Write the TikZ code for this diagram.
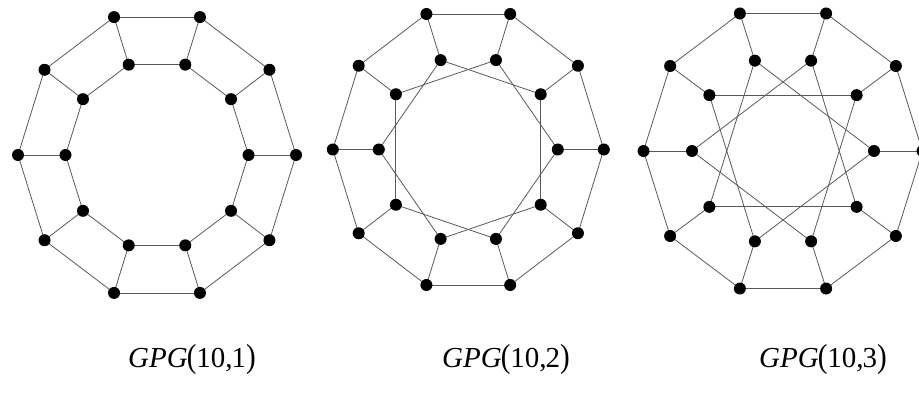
\documentclass[tikz,border=0pt]{standalone}
\usepackage{fontspec}
\setmainfont{Liberation Serif}
\usepackage{graphicx}
\pgfdeclarelayer{bg}
\pgfsetlayers{bg,main}
\tikzset{
 vtx/.style={circle,fill=black,inner sep=0pt,minimum size=12pt},
 gedge/.style={draw=black!65,line width=0.8pt},
 lbl/.style={font=\fontsize{29}{32}\selectfont, anchor=base, inner sep=0pt}
}
\newcommand{\bigpar}[1]{\scalebox{1}[1.15]{#1}}
\newcommand{\gpglabel}[1]{\textit{GPG}\kern-1pt\bigpar{(}10,\kern-1pt#1\bigpar{)}}
\begin{document}
\begin{tikzpicture}[x=1pt,y=-1pt]
\useasboundingbox (0,0) rectangle (919,393);
\foreach \g/\cx/\cy/\ox/\oy/\ix/\iy/\k in {1/157/155/139/145/91.5/95/1, 2/468.3/149.5/135.5/142.5/89.5/94/2, 3/783/151/139.5/144.6/91/95/3}{
  \foreach \i in {0,...,9}{
    \node[vtx] (g\g o\i) at ({\cx+\ox*cos(36*\i)},{\cy-\oy*sin(36*\i)}) {};
    \node[vtx] (g\g i\i) at ({\cx+\ix*cos(36*\i)},{\cy-\iy*sin(36*\i)}) {};
  }
  \begin{pgfonlayer}{bg}
  \foreach \i in {0,...,9}{
    \pgfmathtruncatemacro\nx{mod(\i+1,10)}
    \pgfmathtruncatemacro\nk{mod(\i+\k,10)}
    \draw[gedge] (g\g o\i.center) -- (g\g o\nx.center);
    \draw[gedge] (g\g o\i.center) -- (g\g i\i.center);
    \draw[gedge] (g\g i\i.center) -- (g\g i\nk.center);
  }
  \end{pgfonlayer}
}
\node[lbl] (l1) at (192,367) {\gpglabel{1}};
\node[lbl] (l2) at (506,367) {\gpglabel{2}};
\node[lbl] (l3) at (823,367) {\gpglabel{3}};
\end{tikzpicture}
\end{document}
